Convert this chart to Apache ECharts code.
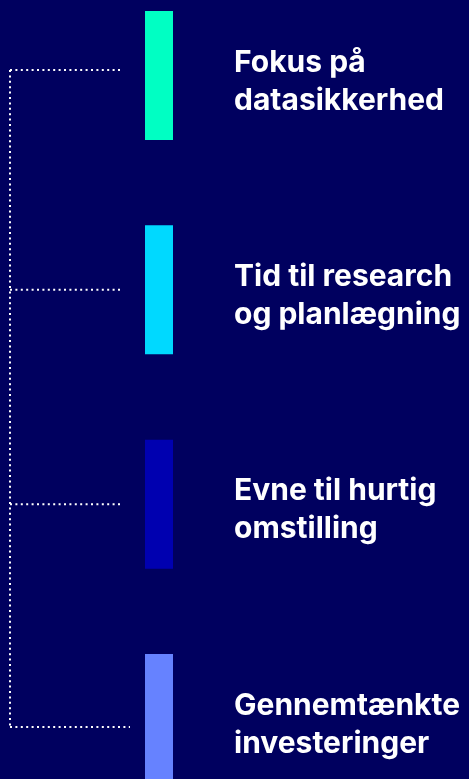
<!DOCTYPE html>
<html>
<head>
<meta charset="utf-8">
<script src="https://cdn.jsdelivr.net/npm/echarts@6/dist/echarts.min.js"></script>
<style>
html,body{margin:0;padding:0;background:#00005F;}
#c{width:469px;height:779px;}
</style>
</head>
<body>
<div id="c"></div>
<script>
var categories = ['Fokus på\ndatasikkerhed', 'Tid til research\nog planlægning', 'Evne til hurtig\nomstilling', 'Gennemtænkte\ninvesteringer'];
var values = [1, 1, 1, 1];
var barColors = ['#00FFC3', '#00D9FF', '#0000B0', '#6682FF'];

var chart = echarts.init(document.getElementById('c'), null, {renderer: 'canvas'});
var band = 214.33;
var option = {
  backgroundColor: '#00005F',
  animation: false,
  grid: {left: 145, width: 28, top: 75.5 - band / 2, height: band * 4, outerBoundsMode: 'none', containLabel: false},
  xAxis: {type: 'value', min: 0, max: 1, show: false},
  yAxis: {type: 'category', data: categories, inverse: true, show: false},
  series: [{
    type: 'bar',
    barWidth: 129,
    data: values.map(function (v, i) {
      return {value: v, itemStyle: {color: barColors[i]}};
    }),
    label: {
      show: true,
      position: 'right',
      distance: 61,
      offset: [0, 6],
      formatter: function (p) { return p.name; },
      color: '#FFFFFF',
      fontFamily: 'Inter',
      fontWeight: 'bold',
      fontSize: 30,
      lineHeight: 38,
      align: 'left'
    }
  }]
};
chart.setOption(option);

function drawBracket() {
  var ys = categories.map(function (c) { return chart.convertToPixel({yAxisIndex: 0}, c); });
  var ends = [120, 123, 123, 130];
  var adj = [-5.5, 0, 0, 8.5];
  var lineStyle = {stroke: '#FFFFFF', lineWidth: 2, lineDash: [2, 3.4]};
  var els = [];
  var pts = ys.map(function (y, i) { return y + adj[i]; });
  els.push({type: 'line', shape: {x1: 10, y1: pts[0], x2: 10, y2: pts[pts.length - 1]}, style: lineStyle, silent: true});
  pts.forEach(function (y, i) {
    els.push({type: 'line', shape: {x1: 10, y1: y, x2: ends[i], y2: y}, style: lineStyle, silent: true});
  });
  chart.setOption({graphic: {elements: els}});
}
drawBracket();
</script>
</body>
</html>
